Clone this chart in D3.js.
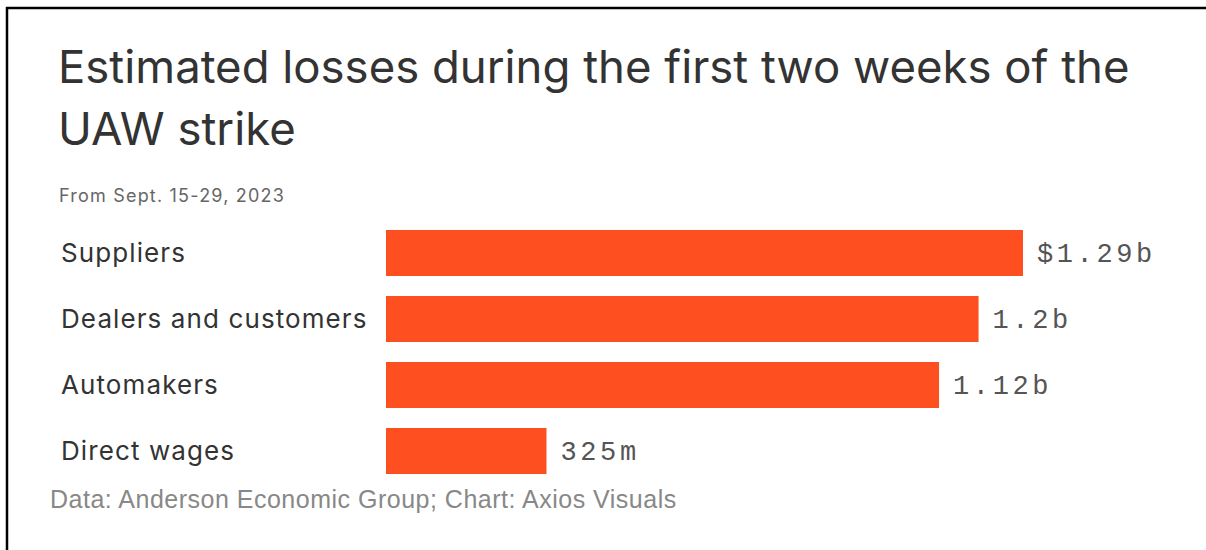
<!DOCTYPE html>
<html>
<head>
<meta charset="utf-8">
<script src="https://cdn.jsdelivr.net/npm/d3@7"></script>
<style>
  body { margin: 0; background: #fff; }
  svg { display: block; }
</style>
</head>
<body>
<div id="chart"></div>
<script>
// Chart data (billions of dollars)
var categories = ["Suppliers", "Dealers and customers", "Automakers", "Direct wages"];
var losses = [1.29, 1.2, 1.12, 0.325];
var valueLabels = ["$1.29b", "1.2b", "1.12b", "325m"];

var title = ["Estimated losses during the first two weeks of the", "UAW strike"];
var subtitle = "From Sept. 15-29, 2023";
var source = "Data: Anderson Economic Group; Chart: Axios Visuals";

var width = 1206, height = 550;

var svg = d3.select("#chart")
    .append("svg")
    .attr("width", width)
    .attr("height", height);

// black frame (top and left edge only)
svg.append("line")
    .attr("x1", 6).attr("x2", width)
    .attr("y1", 8).attr("y2", 8)
    .attr("stroke", "#000").attr("stroke-width", 2.5);
svg.append("line")
    .attr("x1", 7).attr("x2", 7)
    .attr("y1", 7).attr("y2", height)
    .attr("stroke", "#000").attr("stroke-width", 2.5);

// title
svg.selectAll(".title")
    .data(title)
    .enter().append("text")
    .attr("class", "title")
    .attr("x", 58)
    .attr("y", function (d, i) { return 83 + i * 62; })
    .style("font-family", "Inter, 'Noto Sans', sans-serif")
    .style("font-size", "45.5px")
    .style("fill", "#333")
    .text(function (d) { return d; });

svg.append("text")
    .attr("x", 59)
    .attr("y", 202)
    .style("font-family", "Inter, 'Noto Sans', sans-serif")
    .style("font-size", "18px")
    .style("letter-spacing", "1.2px")
    .style("fill", "#666")
    .text(subtitle);

var x = d3.scaleLinear()
    .domain([0, 1.29])
    .range([386, 1023]);

var y = d3.scaleBand()
    .domain(categories)
    .range([230, 474])
    .paddingInner(0.303)
    .paddingOuter(0);

var rows = svg.selectAll(".row")
    .data(categories)
    .enter().append("g")
    .attr("class", "row");

rows.append("rect")
    .attr("x", x(0))
    .attr("y", function (d) { return y(d); })
    .attr("width", function (d, i) { return x(losses[i]) - x(0); })
    .attr("height", y.bandwidth())
    .attr("fill", "#fd4f1f");

rows.append("text")
    .attr("x", 61)
    .attr("y", function (d) { return y(d) + y.bandwidth() / 2; })
    .attr("dy", "0.35em")
    .style("font-family", "Inter, 'Noto Sans', sans-serif")
    .style("font-size", "26px")
    .style("letter-spacing", "1.1px")
    .style("fill", "#333")
    .text(function (d) { return d; });

rows.append("text")
    .attr("x", function (d, i) { return x(losses[i]) + 14; })
    .attr("y", function (d) { return y(d) + y.bandwidth() / 2; })
    .attr("dy", "0.35em")
    .style("font-family", "'Liberation Mono', 'DejaVu Sans Mono', monospace")
    .style("font-size", "27px")
    .style("letter-spacing", "3.6px")
    .style("fill", "#555")
    .text(function (d, i) { return valueLabels[i]; });

svg.append("text")
    .attr("x", 50)
    .attr("y", 508)
    .style("font-family", "'Liberation Sans', Arial, sans-serif")
    .style("font-size", "25px")
    .style("letter-spacing", "0.5px")
    .style("fill", "#888")
    .text(source);
</script>
</body>
</html>
